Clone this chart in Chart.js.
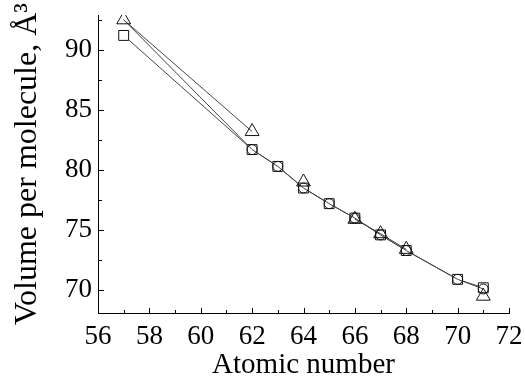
<!DOCTYPE html>
<html lang="en">
<head>
    <meta charset="UTF-8">
    <title>Volume per molecule vs atomic number</title>
    <script src="https://cdn.jsdelivr.net/npm/chart.js"></script>
    <style>
        html, body { margin: 0; padding: 0; background: #fff; }
        #wrap { width: 525px; height: 383px; position: relative; }
    </style>
</head>
<body>
<div id="wrap"><canvas id="volChart"></canvas></div>
<script>
    // Data
    const atomicNumbers = [57, 62, 63, 64, 65, 66, 67, 68, 70, 71];
    const squareVolumes = [91.2, 81.7, 80.3, 78.5, 77.2, 76.0, 74.6, 73.3, 70.9, 70.2];
    const circleVolumes = [92.5, 81.7, 80.3, 78.5, 77.2, 76.0, 74.6, 73.3, 70.9, 70.1];
    const triangleNumbers = [57, 62, 64, 66, 67, 68, 71];
    const triangleVolumes = [92.5, 83.2, 79.0, 75.9, 74.7, 73.4, 69.5];
    const xTicks = [56, 58, 60, 62, 64, 66, 68, 70, 72];
    const yTicks = [70, 75, 80, 85, 90];

    const lineColor = '#444';
    const serif = "'Liberation Serif', 'Times New Roman', serif";

    function pairs(xs, ys) {
        return xs.map((x, i) => ({ x: x, y: ys[i] }));
    }

    // inward ticks, major + minor
    const innerTicks = {
        id: 'innerTicks',
        afterDraw(chart) {
            const ctx = chart.ctx;
            const xs = chart.scales.x, ys = chart.scales.y;
            ctx.save();
            ctx.strokeStyle = '#000';
            ctx.lineWidth = 1;
            ctx.beginPath();
            for (let v = 56; v <= 72; v += 1) {
                const px = Math.round(xs.getPixelForValue(v)) + 0.5;
                const len = v % 2 === 0 ? 5 : 3;
                ctx.moveTo(px, xs.top);
                ctx.lineTo(px, xs.top - len);
            }
            for (let v = 70; v <= 92.5; v += 2.5) {
                const py = Math.round(ys.getPixelForValue(v)) + 0.5;
                const len = v % 5 === 0 ? 6 : 4;
                ctx.moveTo(ys.right, py);
                ctx.lineTo(ys.right + len, py);
            }
            ctx.stroke();
            ctx.restore();
        }
    };

    new Chart(document.getElementById('volChart'), {
        type: 'line',
        data: {
            datasets: [
                {
                    label: 'squares',
                    data: pairs(atomicNumbers, squareVolumes),
                    borderColor: lineColor,
                    borderWidth: 1,
                    pointStyle: 'rect',
                    pointRadius: 7,
                    pointBorderColor: '#111',
                    pointBackgroundColor: '#fff',
                    pointBorderWidth: 1,
                    order: 3
                },
                {
                    label: 'circles',
                    data: pairs(atomicNumbers, circleVolumes),
                    borderColor: lineColor,
                    borderWidth: 1,
                    pointStyle: 'circle',
                    pointRadius: ctx => ctx.dataIndex === 0 ? 0 : 5,
                    pointBorderColor: '#111',
                    pointBackgroundColor: 'rgba(255,255,255,0)',
                    pointBorderWidth: 1,
                    order: 2
                },
                {
                    label: 'triangles',
                    data: pairs(triangleNumbers, triangleVolumes),
                    borderColor: lineColor,
                    borderWidth: 1,
                    segment: {
                        borderColor: ctx => [2, 3, 6].includes(ctx.p1DataIndex) ? 'rgba(0,0,0,0)' : lineColor
                    },
                    pointStyle: 'triangle',
                    pointRadius: 8,
                    pointBorderColor: '#111',
                    pointBackgroundColor: 'rgba(255,255,255,0)',
                    pointBorderWidth: 1,
                    order: 1
                }
            ]
        },
        options: {
            responsive: true,
            maintainAspectRatio: false,
            animation: false,
            layout: { padding: { top: 15, right: 16, left: 0, bottom: 0 } },
            plugins: {
                legend: { display: false },
                tooltip: { enabled: false }
            },
            scales: {
                x: {
                    type: 'linear',
                    min: 56,
                    max: 72,
                    afterBuildTicks: s => { s.ticks = xTicks.map(v => ({ value: v })); },
                    afterFit: s => { s.height = 70; s.paddingLeft = 0; s.paddingRight = 0; },
                    grid: { display: false, drawTicks: false },
                    border: { display: true, color: '#000', width: 1 },
                    ticks: {
                        color: '#000',
                        padding: 8,
                        font: { family: serif, size: 27 }
                    },
                    title: {
                        display: true,
                        text: 'Atomic number',
                        color: '#000',
                        padding: { top: 0, bottom: 0 },
                        font: { family: serif, size: 29 }
                    }
                },
                y: {
                    type: 'linear',
                    min: 68.1,
                    max: 92.9,
                    afterBuildTicks: s => { s.ticks = yTicks.map(v => ({ value: v })); },
                    afterFit: s => { s.width = 98; s.paddingTop = 0; s.paddingBottom = 0; },
                    grid: { display: false, drawTicks: false },
                    border: { display: true, color: '#000', width: 1 },
                    ticks: {
                        color: '#000',
                        padding: 6,
                        font: { family: serif, size: 27 }
                    },
                    title: {
                        display: true,
                        text: 'Volume per molecule, Å³',
                        color: '#000',
                        padding: { top: 8, bottom: 0 },
                        font: { family: serif, size: 32 }
                    }
                }
            }
        },
        plugins: [innerTicks]
    });
</script>
</body>
</html>
